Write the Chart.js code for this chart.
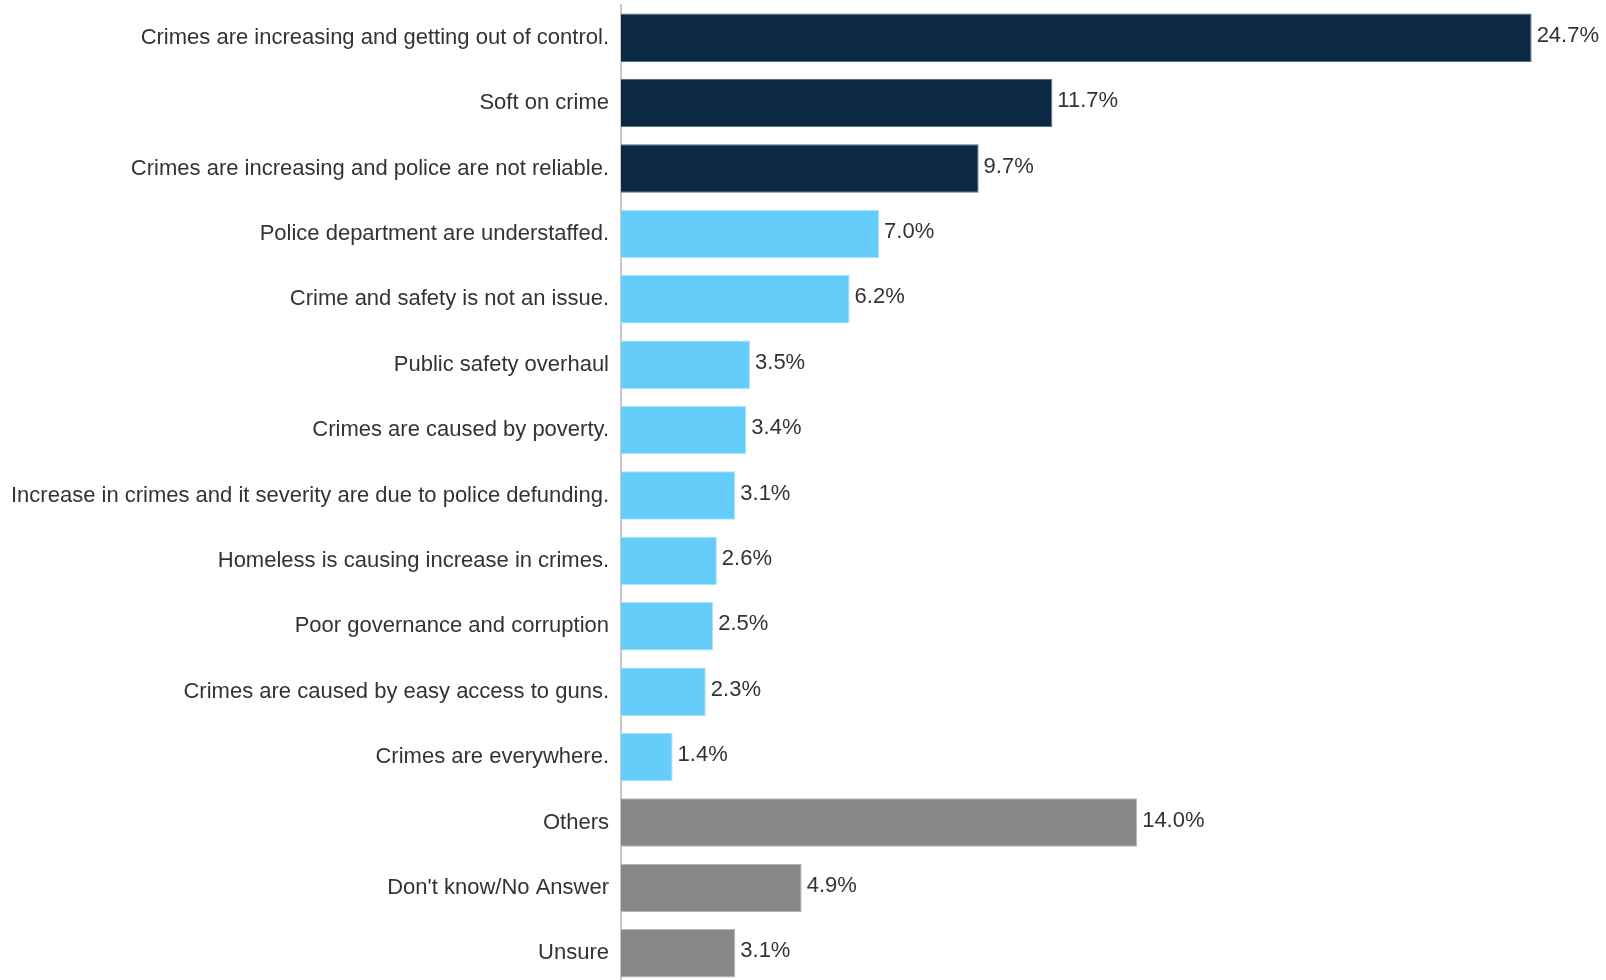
<!DOCTYPE html>
<html>
<head>
<meta charset="utf-8">
<script src="https://cdn.jsdelivr.net/npm/chart.js@4"></script>
<style>
  html, body { margin: 0; padding: 0; background: #fff; overflow: hidden; }
  #wrap { width: 1606px; height: 986px; position: relative; }
</style>
</head>
<body>
<div id="wrap"><canvas id="myChart"></canvas></div>
<script>
var categories = [
    "Crimes are increasing and getting out of control.",
    "Soft on crime",
    "Crimes are increasing and police are not reliable.",
    "Police department are understaffed.",
    "Crime and safety is not an issue.",
    "Public safety overhaul",
    "Crimes are caused by poverty.",
    "Increase in crimes and it severity are due to police defunding.",
    "Homeless is causing increase in crimes.",
    "Poor governance and corruption",
    "Crimes are caused by easy access to guns.",
    "Crimes are everywhere.",
    "Others",
    "Don't know/No Answer",
    "Unsure"
];
var values = [24.7, 11.7, 9.7, 7.0, 6.2, 3.5, 3.4, 3.1, 2.6, 2.5, 2.3, 1.4, 14.0, 4.9, 3.1];
// group of each bar: 0 = top reasons, 1 = other reasons, 2 = others / no answer
var groups = [0, 0, 0, 1, 1, 1, 1, 1, 1, 1, 1, 1, 2, 2, 2];

var groupColors = ["#0c2943", "#64cdfa", "#878787"];
var groupBorders = ["#5a6f82", "#a8e2fc", "#b4b4b4"];

// draws the value text at the end of each bar
var valueLabels = {
    id: "valueLabels",
    afterDatasetsDraw: function(chart) {
        var ctx = chart.ctx;
        var meta = chart.getDatasetMeta(0);
        ctx.save();
        ctx.font = "22px 'Liberation Sans', Arial, sans-serif";
        ctx.fillStyle = "#333333";
        ctx.textAlign = "left";
        ctx.textBaseline = "middle";
        meta.data.forEach(function(bar, i) {
            ctx.fillText(values[i].toFixed(1) + "%", bar.x + 5, bar.y - 2);
        });
        ctx.restore();
    }
};

var ctx = document.getElementById("myChart").getContext("2d");
var myChart = new Chart(ctx, {
    type: "bar",
    data: {
        labels: categories,
        datasets: [{
            data: values,
            backgroundColor: groups.map(function(g) { return groupColors[g]; }),
            borderColor: groups.map(function(g) { return groupBorders[g]; }),
            borderWidth: 1,
            borderSkipped: "left",
            barPercentage: 0.74,
            categoryPercentage: 1.0
        }]
    },
    options: {
        indexAxis: "y",
        responsive: true,
        maintainAspectRatio: false,
        animation: false,
        layout: { padding: { top: 5, right: 8, bottom: 0, left: 0 } },
        plugins: {
            legend: { display: false },
            tooltip: { enabled: false }
        },
        scales: {
            x: {
                min: 0,
                max: 26.5,
                display: false
            },
            y: {
                grid: { display: false, drawTicks: false },
                border: { display: true, color: "#c8c8c8", width: 2 },
                ticks: {
                    padding: 12,
                    color: "#333333",
                    font: { size: 22, family: "'Liberation Sans', Arial, sans-serif" }
                },
                afterFit: function(scale) {
                    scale.width = 621;
                    scale.paddingTop = 0;
                    scale.paddingBottom = 0;
                }
            }
        }
    },
    plugins: [valueLabels]
});
</script>
</body>
</html>
